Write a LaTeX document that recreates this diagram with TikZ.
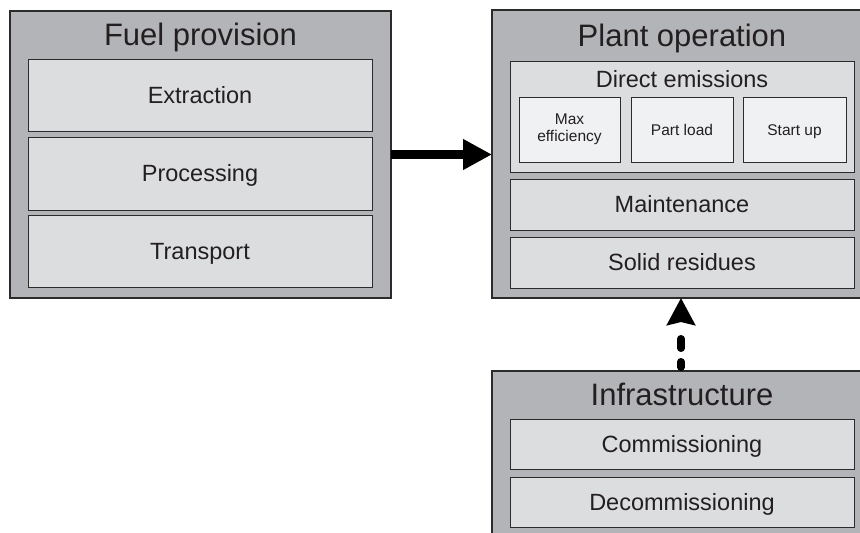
\documentclass[tikz,border=0pt]{standalone}
\usepackage{fontspec}
\setmainfont{Liberation Sans}
\usetikzlibrary{arrows.meta}
\definecolor{outerfill}{HTML}{B3B4B7}
\definecolor{innerfill}{HTML}{DCDDDF}
\definecolor{subfill}{HTML}{F0F1F2}
\definecolor{edge}{HTML}{2B2B2B}
\definecolor{ink}{HTML}{231F20}
\begin{document}
\begin{tikzpicture}[x=1pt,y=-1pt,
  outerbox/.style={draw=edge, fill=outerfill, line width=1.2pt, anchor=north west, inner sep=0pt, outer sep=0pt},
  innerbox/.style={draw=edge, fill=innerfill, line width=1pt, anchor=north west, inner sep=0pt, outer sep=0pt,
    text=ink, font=\fontsize{23.5}{26}\selectfont, text height=16.8pt, text depth=0pt},
  subbox/.style={draw=edge, fill=subfill, line width=1pt, anchor=north west, inner sep=0pt, outer sep=0pt,
    text=ink, font=\fontsize{15.5}{17}\selectfont, align=center},
  oneline/.style={text height=11pt, text depth=0pt},
  titletext/.style={text=ink, font=\fontsize{31}{34}\selectfont, text height=22.2pt, text depth=0pt, inner sep=0pt},
  subtitle/.style={text=ink, font=\fontsize{23.5}{26}\selectfont, text height=16.8pt, text depth=0pt, inner sep=0pt},
  flowarrow/.style={draw=black, line width=9pt, -{Triangle[length=29pt,width=29pt]}},
  infraarrow/.style={draw=black, line width=7.5pt, line cap=round,
    dash pattern=on 5.5pt off 13.5pt on 9.5pt off 80pt, shorten <=3.75pt,
    -{Stealth[length=27pt,width=28pt,inset=3pt]}}
]
\useasboundingbox (0,0) rectangle (860,533);

% Fuel provision
\node[outerbox, minimum width=381pt, minimum height=287pt] (fuel) at (10,11) {};
\node[titletext] (fueltitle) at (200.5,34) {Fuel provision};
\node[innerbox, minimum width=344pt, minimum height=72pt] (extraction) at (28,59) {Extraction};
\node[innerbox, minimum width=344pt, minimum height=73pt] (processing) at (28,137) {Processing};
\node[innerbox, minimum width=344pt, minimum height=72pt] (transport) at (28,215) {Transport};

% Plant operation
\node[outerbox, minimum width=380pt, minimum height=288pt] (plant) at (492,10) {};
\node[titletext] (planttitle) at (682,35) {Plant operation};
\node[innerbox, minimum width=344pt, minimum height=111pt] (direct) at (510,61) {};
\node[subtitle] (directtitle) at (682,79) {Direct emissions};
\node[subbox, minimum width=101pt, minimum height=65pt] (maxeff) at (519,97) {Max\\efficiency};
\node[subbox, oneline, minimum width=102pt, minimum height=65pt] (partload) at (631,97) {Part load};
\node[subbox, oneline, minimum width=103pt, minimum height=65pt] (startup) at (743,97) {Start up};
\node[innerbox, minimum width=344pt, minimum height=51pt] (maintenance) at (510,179) {Maintenance};
\node[innerbox, minimum width=344pt, minimum height=51pt] (residues) at (510,237) {Solid residues};

% Infrastructure
\node[outerbox, minimum width=380pt, minimum height=200pt] (infra) at (492,371) {};
\node[titletext] (infratitle) at (682,394.5) {Infrastructure};
\node[innerbox, minimum width=344pt, minimum height=50pt] (commissioning) at (510,419) {Commissioning};
\node[innerbox, minimum width=344pt, minimum height=50pt] (decommissioning) at (510,477) {Decommissioning};

% Connectors
\coordinate (ax) at (681,0);
\draw[flowarrow] (fuel.east) -- (plant.west |- fuel.east);
\draw[infraarrow] (ax |- infra.north) -- (ax |- plant.south);
\end{tikzpicture}
\end{document}
